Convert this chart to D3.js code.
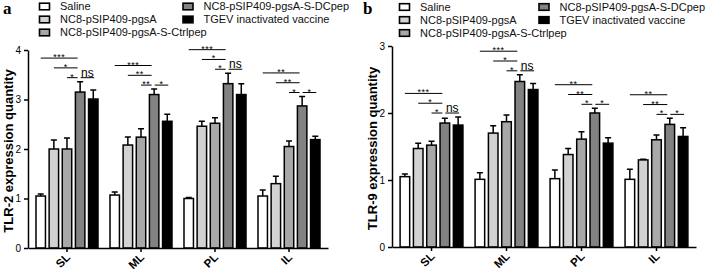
<!DOCTYPE html>
<html>
<head>
<meta charset="utf-8">
<script src="https://cdn.jsdelivr.net/npm/d3@7"></script>
<style>
  body { margin: 0; background: #fff; }
  svg { display: block; font-family: "Liberation Sans", Arial, sans-serif; }
</style>
</head>
<body>
<script>
const categories = ['SL', 'ML', 'PL', 'IL'];
const groups = ['Saline', 'NC8-pSIP409-pgsA', 'NC8-pSIP409-pgsA-S-Ctrlpep',
                'NC8-pSIP409-pgsA-S-DCpep', 'TGEV inactivated vaccine'];

// mean values, one row per category, one column per group
const tlr2Means = [
  [1.05, 2.00, 2.00, 3.15, 3.01],
  [1.07, 2.08, 2.24, 3.10, 2.56],
  [1.00, 2.46, 2.52, 3.32, 3.10],
  [1.05, 1.30, 2.05, 2.87, 2.19]
];
const tlr2Errors = [
  [0.04, 0.18, 0.22, 0.21, 0.18],
  [0.06, 0.16, 0.17, 0.11, 0.14],
  [0.02, 0.10, 0.11, 0.21, 0.22],
  [0.12, 0.15, 0.11, 0.19, 0.07]
];
const tlr9Means = [
  [1.05, 1.47, 1.52, 1.85, 1.82],
  [1.01, 1.70, 1.87, 2.47, 2.35],
  [1.02, 1.38, 1.61, 2.00, 1.55],
  [1.01, 1.30, 1.60, 1.83, 1.65]
];
const tlr9Errors = [
  [0.04, 0.08, 0.06, 0.07, 0.12],
  [0.10, 0.11, 0.10, 0.10, 0.09],
  [0.13, 0.09, 0.11, 0.07, 0.08],
  [0.15, 0.01, 0.07, 0.09, 0.13]
];
const tlr2Ticks = [0, 1, 2, 3, 4];
const tlr9Ticks = [0, 1, 2, 3];

// pairs compared in every category and the stacking level of the bracket
const comparisons = [[0, 3], [1, 3], [2, 3], [3, 4]];
const compLevels = [2, 1, 0, 0];
const tlr2Stars = [
  ['***', '*', '*', 'ns'],
  ['***', '**', '**', '*'],
  ['***', '*', '*', 'ns'],
  ['**', '**', '*', '*']
];
const tlr9Stars = [
  ['***', '*', '*', 'ns'],
  ['***', '*', '*', 'ns'],
  ['**', '**', '*', '*'],
  ['**', '**', '*', '*']
];

const WIDTH = 706;
const HEIGHT = 272;
const COLORS = ['#ffffff', '#d2d2d2', '#a8a8a8', '#828282', '#000000'];

const panels = [
  {letter: 'a', yLabel: 'TLR-2 expression quantity', means: tlr2Means, errors: tlr2Errors,
   stars: tlr2Stars, ticks: tlr2Ticks, xRange: [28, 328], yRange: [248, 50],
   letterX: 3, labelX: 13, legendX: [39.5, 183], legendY: [6.5, 6.5]},
  {letter: 'b', yLabel: 'TLR-9 expression quantity', means: tlr9Means, errors: tlr9Errors,
   stars: tlr9Stars, ticks: tlr9Ticks, xRange: [392, 696], yRange: [247, 46],
   letterX: 363, labelX: 377, legendX: [399.5, 539], legendY: [7, 7]}
];

var translate = function(x, y) {
  return 'translate(' + x + ',' + y + ')';
};

var drawLegend = function(svg, p) {
  var g = svg.append('g');
  groups.forEach(function(name, i) {
    var col = i < 3 ? 0 : 1;
    var row = i < 3 ? i : i - 3;
    var cy = p.legendY[col] + row * 13;
    var item = g.append('g').attr('transform', translate(p.legendX[col], cy));
    item.append('rect')
      .attr('x', 0).attr('y', -3.3)
      .attr('width', 10).attr('height', 6.6)
      .attr('fill', COLORS[i])
      .attr('stroke', '#000')
      .attr('stroke-width', 1.6);
    item.append('text')
      .attr('x', 20.5).attr('dy', '0.36em')
      .attr('font-size', 11)
      .attr('fill', '#111')
      .text(name);
  });
};

var drawPanel = function(svg, p) {
  var x0 = d3.scaleBand().domain(categories).range(p.xRange)
    .paddingInner(0.162).paddingOuter(0.108);
  var x1 = d3.scaleBand().domain(d3.range(groups.length))
    .range([0, x0.bandwidth()]).paddingInner(0.28);
  var y = d3.scaleLinear().domain([0, d3.max(p.ticks)]).range(p.yRange);
  var cx = function(j) { return x1(j) + x1.bandwidth() / 2; };

  svg.append('text')
    .attr('x', p.letterX).attr('y', 14)
    .attr('font-family', '"Liberation Serif", "DejaVu Serif", serif')
    .attr('font-weight', 'bold').attr('font-size', 17)
    .text(p.letter);

  drawLegend(svg, p);

  svg.append('text')
    .attr('transform', translate(p.labelX, (p.yRange[0] + p.yRange[1]) / 2 + 2) + ' rotate(-90)')
    .attr('text-anchor', 'middle')
    .attr('font-weight', 'bold').attr('font-size', 13)
    .text(p.yLabel);

  var cats = svg.selectAll('.cat' + p.letter).data(categories)
    .enter().append('g')
    .attr('class', 'cat' + p.letter)
    .attr('transform', function(d) { return translate(x0(d), 0); });

  cats.each(function(cat, i) {
    var g = d3.select(this);
    var rows = groups.map(function(name, j) {
      return {j: j, mean: p.means[i][j], err: p.errors[i][j]};
    });

    // error bars (upper only)
    g.selectAll('.err').data(rows).enter().append('path')
      .attr('class', 'err')
      .attr('fill', 'none').attr('stroke', '#000').attr('stroke-width', 1.5)
      .attr('d', function(d) {
        var top = y(d.mean + d.err);
        return 'M' + cx(d.j) + ',' + y(d.mean) + 'V' + top +
               'M' + (cx(d.j) - 3) + ',' + top + 'H' + (cx(d.j) + 3);
      });

    g.selectAll('.bar').data(rows).enter().append('rect')
      .attr('class', 'bar')
      .attr('x', function(d) { return x1(d.j); })
      .attr('y', function(d) { return y(d.mean); })
      .attr('width', x1.bandwidth())
      .attr('height', function(d) { return y(0) - y(d.mean); })
      .attr('fill', function(d) { return COLORS[d.j]; })
      .attr('stroke', '#000').attr('stroke-width', 1.5);

    // significance brackets
    var base = y(d3.max(rows, function(d) { return d.mean + d.err; })) - 4;
    comparisons.forEach(function(c, k) {
      var ly = base - compLevels[k] * 9.8;
      var xa = cx(c[0]) + (c[0] === 3 ? 0.5 : 0);
      var xb = cx(c[1]) - (c[1] === 3 ? 2.5 : -1);
      g.append('line')
        .attr('x1', xa).attr('x2', xb).attr('y1', ly).attr('y2', ly)
        .attr('stroke', '#000').attr('stroke-width', 1);
      var label = p.stars[i][k];
      var isNs = label === 'ns';
      g.append('text')
        .attr('x', (xa + xb) / 2)
        .attr('y', isNs ? ly - 1 : ly + 2)
        .attr('text-anchor', 'middle')
        .attr('font-size', isNs ? 12 : 9)
        .attr('letter-spacing', isNs ? 0 : 0.5)
        .text(label);
    });
  });

  var yAxis = d3.axisLeft(y).tickValues(p.ticks).tickSize(4).tickSizeOuter(0)
    .tickFormat(d3.format('d'));
  var ya = svg.append('g').attr('transform', translate(p.xRange[0], 0)).call(yAxis);
  ya.attr('font-family', null).attr('font-size', 10);

  var xAxis = d3.axisBottom(x0).tickSize(4).tickSizeOuter(0);
  var xa = svg.append('g').attr('transform', translate(0, y(0))).call(xAxis);
  xa.attr('font-family', null);
  xa.selectAll('text')
    .attr('y', 0).attr('dy', 0)
    .attr('transform', 'translate(4,10) rotate(-45)')
    .attr('text-anchor', 'end')
    .attr('font-weight', 'bold').attr('font-size', 11.5);

  svg.selectAll('.domain, .tick line').attr('stroke', '#000').attr('stroke-width', 1.5);
};

var onload = function() {
  var svg = d3.select('body').append('svg')
    .attr('width', WIDTH)
    .attr('height', HEIGHT);
  panels.forEach(function(p) { drawPanel(svg, p); });
};

window.onload = onload;
</script>
</body>
</html>
